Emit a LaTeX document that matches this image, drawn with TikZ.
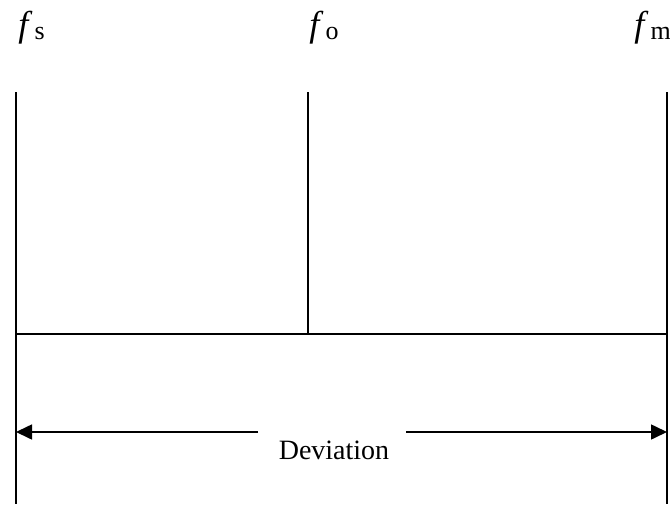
\documentclass[tikz,border=0pt]{standalone}
\usepackage{fontspec}
\setmainfont{Liberation Serif}
\usetikzlibrary{arrows.meta}

\newcommand{\freq}[1]{\textit{f}\kern1pt\raisebox{-0.2ex}{\fontsize{13}{15}\selectfont #1}}

\begin{document}
\begin{tikzpicture}[
  x=0.5pt, y=-0.5pt,
  bar/.style={line width=0.8pt},
  label/.style={inner sep=0pt,font=\fontsize{14}{16}\selectfont},
  flabel/.style={inner sep=0pt,anchor=base west,font=\fontsize{18}{20}\selectfont},
  arrow/.style={-{Triangle[length=8pt,width=7.5pt]},line width=0.8pt}
]
  \useasboundingbox (0,0) rectangle (670,504);

  % frequency labels
  \node[flabel] (fs) at (18,36) {\freq{s}};
  \node[flabel] (fo) at (309,36) {\freq{o}};
  \node[flabel] (fm) at (634,36) {\freq{m}};

  % marker lines
  \coordinate (stop) at (16,92);
  \coordinate (sbot) at (16,504);
  \coordinate (otop) at (308,92);
  \coordinate (obot) at (308,334);
  \coordinate (mtop) at (667,92);
  \coordinate (mbot) at (667,504);
  \draw[bar] (stop) -- (sbot);
  \draw[bar] (otop) -- (obot);
  \draw[bar] (mtop) -- (mbot);
  \draw[bar] (16,334) -- (667,334);

  % deviation
  \node[label] (dev) at (334,450) {Deviation};
  \coordinate (gapl) at (258,432);
  \coordinate (gapr) at (406,432);
  \draw[arrow] (gapl) -- (16,432);
  \draw[arrow] (gapr) -- (667,432);
\end{tikzpicture}
\end{document}
